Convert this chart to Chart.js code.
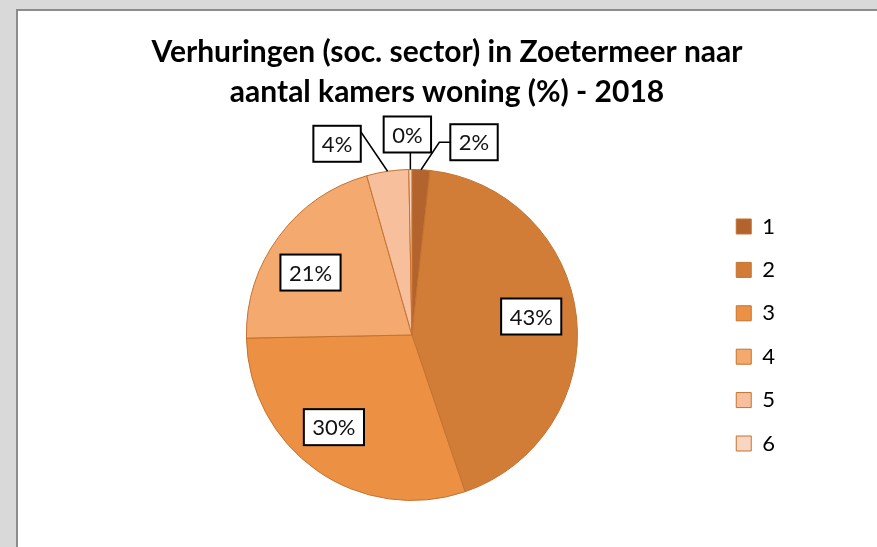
<!DOCTYPE html>
<html>
<head>
<meta charset="utf-8">
<title>Verhuringen Zoetermeer 2018</title>
<script src="https://cdn.jsdelivr.net/npm/chart.js@4"></script>
<style>
  html, body { margin: 0; padding: 0; background: #d9d9d9; overflow: hidden; width: 877px; height: 547px; }
  .sheet {
    position: absolute; left: 16px; top: 9px;
    width: 880px; height: 560px;
    background: #fff;
    border-left: 2px solid #8c8c8c;
    border-top: 2px solid #8c8c8c;
  }
  canvas { display: block; }
</style>
</head>
<body>
<div class="sheet"><canvas id="pie" width="865" height="536"></canvas></div>
<script>
// Verhuringen sociale sector naar aantal kamers (%), 2018
const categories = ["1", "2", "3", "4", "5", "6"];
const shares = [1.75, 43.05, 29.9, 20.9, 4.1, 0.3];
const sliceColors = ["#b3632e", "#d27d37", "#ec9143", "#f4a96f", "#f7bf9c", "#f9d6c1"];
const edgeColor = "#c4722f";

// where each data label goes: inside the slice (nudged a bit, like Excel does),
// or outside with a leader line
const labelPlace = [
  { inside: false, dx: 53, dy: -27.5, leader: "elbow" },
  { inside: true, dx: 0, dy: -5.5 },
  { inside: true, dx: -9, dy: -6 },
  { inside: true, dx: -5, dy: 9 },
  { inside: false, dx: -50.5, dy: -27.5, leader: "right" },
  { inside: false, dx: -3, dy: -35, leader: "down" },
];

// ---------- boxed percentage labels ----------
const boxLabels = {
  id: "boxLabels",
  afterDatasetsDraw(chart) {
    const ctx = chart.ctx;
    const meta = chart.getDatasetMeta(0);
    ctx.save();
    ctx.font = "22px Lato";
    ctx.textAlign = "center";
    ctx.textBaseline = "middle";
    meta.data.forEach((arc, i) => {
      const p = arc.getProps(["x", "y", "startAngle", "endAngle", "outerRadius"], true);
      const mid = (p.startAngle + p.endAngle) / 2;
      const text = Math.round(shares[i]) + "%";
      const w = ctx.measureText(text).width + 17;
      const h = 36;
      const place = labelPlace[i];
      let cx, cy;
      ctx.strokeStyle = "#000";
      ctx.lineWidth = 1.5;
      if (place.inside) {
        cx = p.x + Math.cos(mid) * p.outerRadius * 0.725 + place.dx;
        cy = p.y + Math.sin(mid) * p.outerRadius * 0.725 + place.dy;
      } else {
        const px = p.x + Math.cos(mid) * p.outerRadius;
        const py = p.y + Math.sin(mid) * p.outerRadius;
        cx = px + place.dx;
        cy = py + place.dy;
        const left = cx - w / 2, right = cx + w / 2, top = cy - h / 2, bottom = cy + h / 2;
        ctx.beginPath();
        ctx.moveTo(px, py);
        if (place.leader === "elbow") {
          ctx.lineTo(left - 11, cy);
          ctx.lineTo(left, cy);
        } else if (place.leader === "right") {
          ctx.lineTo(right, top + 6);
        } else {
          ctx.lineTo(px, bottom);
        }
        ctx.stroke();
      }
      ctx.fillStyle = "#fff";
      ctx.fillRect(cx - w / 2, cy - h / 2, w, h);
      ctx.lineWidth = 2;
      ctx.strokeRect(cx - w / 2, cy - h / 2, w, h);
      ctx.fillStyle = "#111";
      ctx.fillText(text, cx, cy + 1);
    });
    ctx.restore();
  },
};

new Chart(document.getElementById("pie"), {
  type: "pie",
  data: {
    labels: categories,
    datasets: [{
      data: shares,
      backgroundColor: sliceColors,
      borderColor: edgeColor,
      borderWidth: 1,
    }],
  },
  options: {
    responsive: false,
    animation: false,
    devicePixelRatio: 1,
    layout: { padding: { left: 91, right: 98, top: 0, bottom: 46 } },
    plugins: {
      title: {
        display: true,
        text: ["Verhuringen (soc. sector) in Zoetermeer naar", "aantal kamers woning (%) - 2018"],
        color: "#000",
        font: { family: "Lato", size: 30, weight: "bold", lineHeight: 1.333 },
        padding: { top: 21, bottom: 57 },
      },
      legend: {
        position: "right",
        align: "center",
        fullSize: false,
        labels: {
          boxWidth: 15,
          boxHeight: 15,
          padding: 21.4,
          color: "#000",
          font: { family: "Lato", size: 22 },
        },
      },
      tooltip: { enabled: false },
    },
  },
  plugins: [boxLabels],
});
</script>
</body>
</html>
